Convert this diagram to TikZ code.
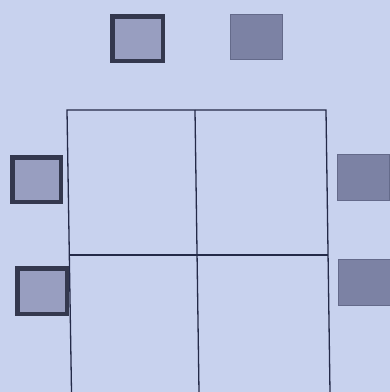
\documentclass[tikz,border=0pt]{standalone}
\begin{document}
\begin{tikzpicture}[x=1pt,y=-1pt,
  framed/.style={draw=darkframe,line width=4.5pt,fill=lightin,inner sep=0pt,anchor=north west},
  plain/.style={draw=plainframe,line width=1pt,fill=plainfill,inner sep=0pt,anchor=north west},
  gridline/.style={draw=gridc,line width=1.3pt}]
\definecolor{bg}{RGB}{200,210,238}
\definecolor{darkframe}{RGB}{52,56,78}
\definecolor{lightin}{RGB}{152,158,192}
\definecolor{plainframe}{RGB}{100,106,138}
\definecolor{plainfill}{RGB}{124,130,164}
\definecolor{gridc}{RGB}{36,42,72}
\fill[bg] (0,0) rectangle (390,392);
\useasboundingbox (0,0) rectangle (390,392);
% grid
\coordinate (tl) at (67,110);
\coordinate (tm) at (195,110);
\coordinate (tr) at (326,110);
\coordinate (ml) at (69,255);
\coordinate (mr) at (328,255);
\coordinate (bl) at (71.5,392);
\coordinate (bm) at (199,392);
\coordinate (br) at (330,392);
\draw[gridline] (bl) -- (tl) -- (tr) -- (br);
\draw[gridline] (tm) -- (bm);
\draw[gridline] (ml) -- (mr);
% squares
\node[framed,minimum width=50.5pt,minimum height=44.5pt] (s1) at (110.25,14.25) {};
\node[plain,minimum width=52pt,minimum height=45pt] (s2) at (229.5,13.5) {};
\node[framed,minimum width=48.5pt,minimum height=44.5pt] (s3) at (10.25,155.25) {};
\node[framed,minimum width=49.5pt,minimum height=45.5pt] (s4) at (15.25,266.25) {};
\node[plain,minimum width=52pt,minimum height=46pt] (s5) at (336.5,153.5) {};
\node[plain,minimum width=53pt,minimum height=46pt] (s6) at (337.5,258.5) {};
\end{tikzpicture}
\end{document}
